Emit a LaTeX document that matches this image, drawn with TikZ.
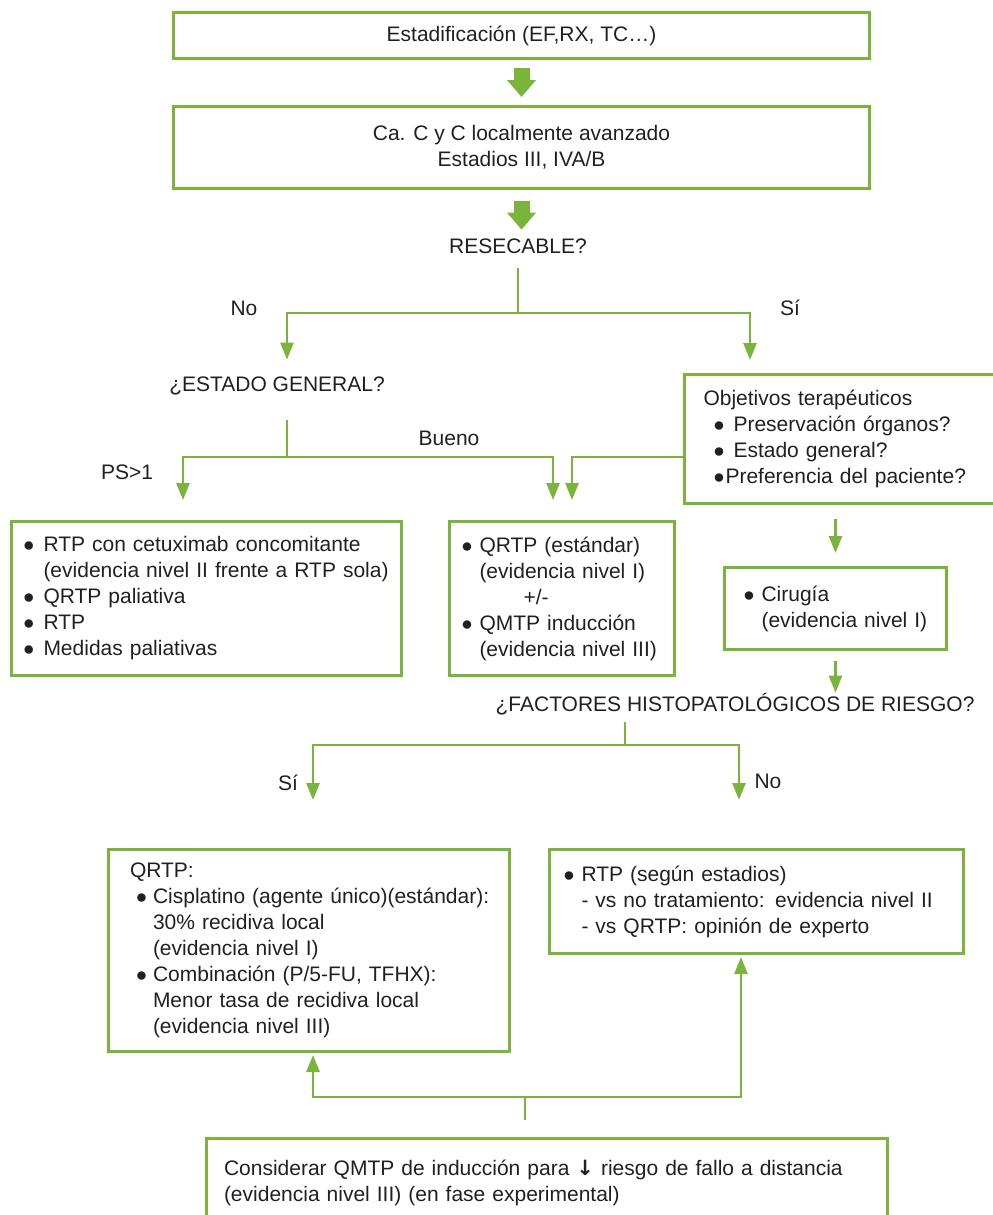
\documentclass[tikz,border=0pt]{standalone}
\usepackage{fontspec}
\setmainfont{Liberation Sans}
\newfontfamily\flechafont{DejaVu Sans}
\usetikzlibrary{arrows.meta}
\definecolor{verde}{RGB}{122,180,58}
\definecolor{texto}{RGB}{35,31,32}
\newcommand{\bul}[1][10pt]{\makebox[#1][l]{$\bullet$}}

\begin{document}
\begin{tikzpicture}[x=0.5pt, y=-0.5pt,
  every node/.style={text=texto, font=\fontsize{10.5}{13}\selectfont},
  caja/.style={draw=verde, line width=1.5pt, anchor=north west, inner ysep=0pt},
  etiqueta/.style={inner sep=0pt, text height=8pt, text depth=2.5pt},
  linea/.style={draw=verde, line width=1.3pt},
  flecha/.style={linea, -{Triangle[width=6.5pt,length=8.5pt]}},
  gorda/.style={draw=verde, line width=8pt, -{Triangle[width=14pt,length=8.5pt]}}]
  \useasboundingbox (0,0) rectangle (992,1215);

  \node[caja, minimum width=348pt, minimum height=23pt] (estadif) at (172,11) {Estadificación (EF,RX, TC…)};
  \node[caja, minimum width=348pt, minimum height=41pt, align=center] (avanzado) at (172,105) {Ca. C y C localmente avanzado\\Estadios III, IVA/B};
  \node[etiqueta] (resecable) at (518,248) {RESECABLE?};
  \node[etiqueta] (no1) at (244,310) {No};
  \node[etiqueta] (si1) at (790,310) {Sí};
  \node[etiqueta] (estado) at (277,386) {¿ESTADO GENERAL?};
  \node[etiqueta] (bueno) at (449,440) {Bueno};
  \node[etiqueta] (ps) at (127,474) {PS>1};
  \node[etiqueta] (factores) at (735,706) {¿FACTORES HISTOPATOLÓGICOS DE RIESGO?};
  \node[etiqueta] (si2) at (288,785) {Sí};
  \node[etiqueta] (no2) at (768,783) {No};

  \node[caja, minimum width=160pt, minimum height=64.5pt, text width=141pt, inner xsep=7.5pt, align=left] (objetivos) at (683,373)
    {Objetivos terapéuticos\\\hspace*{5pt}\bul Preservación órganos?\\\hspace*{5pt}\bul Estado general?\\\hspace*{5pt}\bul[6pt]Preferencia del paciente?};
  \node[caja, minimum width=195pt, minimum height=77pt, text width=183pt, inner xsep=6pt, align=left] (paliativo) at (10,520)
    {\bul RTP con cetuximab concomitante\\\hspace*{10pt}(evidencia nivel II frente a RTP sola)\\\bul QRTP paliativa\\\bul RTP\\\bul Medidas paliativas};
  \node[caja, minimum width=112.5pt, minimum height=77pt, text width=100.5pt, inner xsep=6pt, align=left] (quimio) at (448,520)
    {\bul[9pt]QRTP (estándar)\\\hspace*{9pt}(evidencia nivel I)\\\hspace*{31pt}+/-\\\bul[9pt]QMTP inducción\\\hspace*{9pt}(evidencia nivel III)};
  \node[caja, minimum width=111pt, minimum height=41pt, text width=92pt, inner xsep=9.5pt, align=left] (cirugia) at (723,566)
    {\bul[9pt]Cirugía\\\hspace*{9pt}(evidencia nivel I)};
  \node[caja, minimum width=200.5pt, minimum height=101pt, text width=185pt, inner xsep=7.5pt, align=left] (qrtp) at (107,848)
    {\hspace*{3pt}QRTP:\\\hspace*{6pt}\bul[8.5pt]\mbox{Cisplatino (agente único)(estándar):}\\\hspace*{14.5pt}30\% recidiva local\\\hspace*{14.5pt}(evidencia nivel I)\\\hspace*{6pt}\bul[8.5pt]Combinación (P/5-FU, TFHX):\\\hspace*{14.5pt}Menor tasa de recidiva local\\\hspace*{14.5pt}(evidencia nivel III)};
  \node[caja, minimum width=207pt, minimum height=52pt, text width=193pt, inner xsep=7pt, align=left] (rtp) at (548,848)
    {\bul[9pt]RTP (según estadios)\\\hspace*{9pt}- vs no tratamiento: evidencia nivel II\\\hspace*{9pt}- vs QRTP: opinión de experto};
  \node[caja, minimum width=340.5pt, minimum height=44pt, text width=323pt, inner xsep=8.5pt, align=left] (considerar) at (205,1137)
    {Considerar QMTP de inducción para {\flechafont\textbf{↓}} riesgo de fallo a distancia\\(evidencia nivel III) (en fase experimental)};

  \draw[gorda, shorten <=4pt, shorten >=4pt] (estadif.south) -- (avanzado.north);
  \draw[gorda, shorten <=5.5pt, shorten >=3.75pt] (avanzado.south) -- (avanzado.south |- resecable.north);

  \coordinate (jres) at (518,313);
  \coordinate (jno) at (287,313);
  \coordinate (jsi) at (750,313);
  \draw[linea, shorten <=4.75pt] (resecable.south) -- (jres);
  \draw[flecha, shorten >=7.75pt] (jres) -- (jno) -- (jno |- estado.north);
  \draw[flecha, shorten >=6.5pt] (jres) -- (jsi) -- (jsi |- objetivos.north);

  \coordinate (jest) at (287,457);
  \coordinate (jps) at (183,457);
  \coordinate (jbue) at (553,457);
  \coordinate (jobj) at (572,457);
  \draw[linea, shorten <=11.75pt] (estado.south -| jest) -- (jest);
  \draw[flecha, shorten >=10pt] (jest) -- (jps) -- (jps |- paliativo.north);
  \draw[flecha, shorten >=10pt] (jest) -- (jbue) -- (jbue |- quimio.north);
  \draw[flecha, shorten >=10pt] (objetivos.west |- jobj) -- (jobj) -- (jobj |- quimio.north);

  \draw[flecha, shorten <=7pt, shorten >=6.5pt] (objetivos.south -| cirugia.north) -- (cirugia.north);
  \draw[flecha, shorten <=5pt, shorten >=1.25pt] (cirugia.south) -- (cirugia.south |- factores.north);

  \coordinate (jfac) at (625,745);
  \coordinate (jsi2) at (313,745);
  \coordinate (jno2) at (739,745);
  \draw[linea, shorten <=2.75pt] (factores.south -| jfac) -- (jfac);
  \draw[flecha, shorten >=24pt] (jfac) -- (jsi2) -- (jsi2 |- qrtp.north);
  \draw[flecha, shorten >=24pt] (jfac) -- (jno2) -- (jno2 |- rtp.north);

  \coordinate (jbaja) at (525,1097);
  \coordinate (jizq) at (313,1097);
  \coordinate (jder) at (741,1097);
  \draw[linea, shorten <=8.5pt] (considerar.north -| jbaja) -- (jbaja);
  \draw[flecha, shorten >=1pt] (jbaja) -- (jizq) -- (jizq |- qrtp.south);
  \draw[flecha, shorten >=1pt] (jbaja) -- (jder) -- (jder |- rtp.south);
\end{tikzpicture}
\end{document}
